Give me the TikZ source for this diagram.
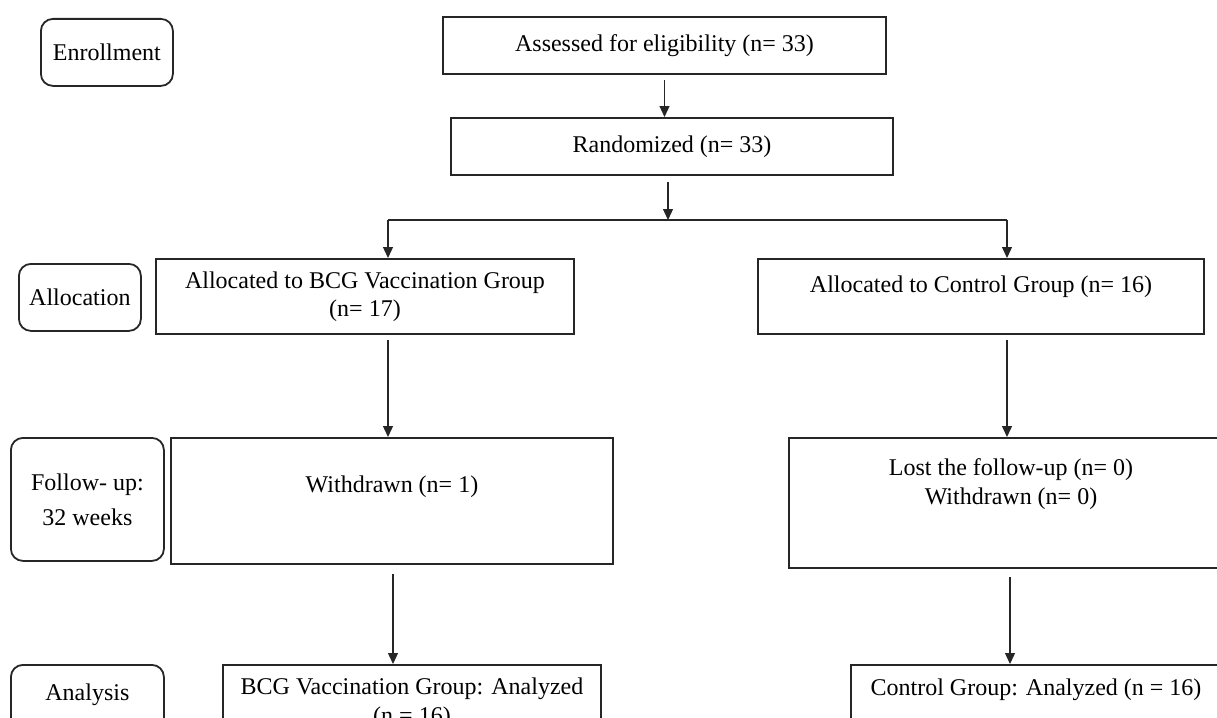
\documentclass[tikz,border=0pt]{standalone}
\usepackage{fontspec}
\setmainfont{Liberation Serif}
\usetikzlibrary{arrows.meta}
\tikzset{
  stage/.style={draw=black!85, line width=1.8pt, rounded corners=12pt, align=center, anchor=north west, inner sep=0pt},
  field/.style={draw=black!85, line width=2pt, align=center, anchor=north west, inner sep=0pt},
  flow/.style={draw=black!85, line width=1.3pt, -{Triangle[length=11pt,width=10pt]}},
}

\begin{document}
\begin{tikzpicture}[x=1pt, y=-1pt, font=\fontsize{24}{28}\selectfont]

        \clip (0,0) rectangle (1217,717);

        % stage labels on the left
        \node (enroll) [stage, minimum width=132pt, minimum height=67pt] at (40,18) {Enrollment};
        \node (alloc) [stage, minimum width=122pt, minimum height=67pt] at (18,263) {Allocation};
        \node (follow) [stage, minimum width=153pt, minimum height=123pt] at (10,437) {Follow- up:\\[7pt]32 weeks};
        \node (analysis) [stage, minimum width=153pt, text height=36pt, text depth=60pt] at (10,664) {Analysis};

        % trial boxes
        \node (assess) [field, minimum width=443pt, minimum height=57pt] at (442,16) {Assessed for eligibility (n= 33)};
        \node (random) [field, minimum width=442pt, minimum height=57pt] at (450,117) {Randomized (n= 33)};

        \node (bcg) [field, minimum width=418pt, minimum height=75pt] at (155,258) {Allocated to BCG Vaccination Group\\(n= 17)};
        \node (ctrl) [field, minimum width=446pt, text height=33pt, text depth=42pt] at (757,258) {Allocated to Control Group (n= 16)};

        \node (withdrawn) [field, minimum width=442pt, text height=54pt, text depth=72pt] at (170,437) {Withdrawn (n= 1)};
        \node (lost) [field, minimum width=444pt, text height=66pt, text depth=64pt] at (788,437) {Lost the follow-up (n= 0)\\[1pt]Withdrawn (n= 0)};

        \node (bcgdone) [field, minimum width=378pt, text height=58pt, text depth=40pt] at (222,664) {BCG Vaccination Group: Analyzed\\[1pt](n = 16)};
        \node (ctrldone) [field, minimum width=370pt, text height=30pt, text depth=70pt] at (850,664) {Control Group: Analyzed (n = 16)};

        % connectors
        \coordinate (lsplit) at (388,220);
        \coordinate (rsplit) at (1007,220);

        \draw[flow] ([yshift=-5pt]assess.south) -- (assess.south |- random.north);
        \draw[flow] (668,0 |- random.south) ++(0,6) -- (668,0 |- lsplit);
        \draw[draw=black!85, line width=1.3pt] (lsplit) -- (rsplit);
        \draw[flow] (lsplit) -- (lsplit |- bcg.north);
        \draw[flow] (rsplit) -- (rsplit |- ctrl.north);

        \draw[flow] (388,0 |- bcg.south) ++(0,5) -- (388,0 |- withdrawn.north);
        \draw[flow] (1007,0 |- ctrl.south) ++(0,5) -- (1007,0 |- lost.north);
        \draw[flow] (393,0 |- withdrawn.south) ++(0,9) -- (393,0 |- bcgdone.north);
        \draw[flow] (1010,0 |- lost.south) ++(0,8) -- (1010,0 |- ctrldone.north);

    \end{tikzpicture}
\end{document}
